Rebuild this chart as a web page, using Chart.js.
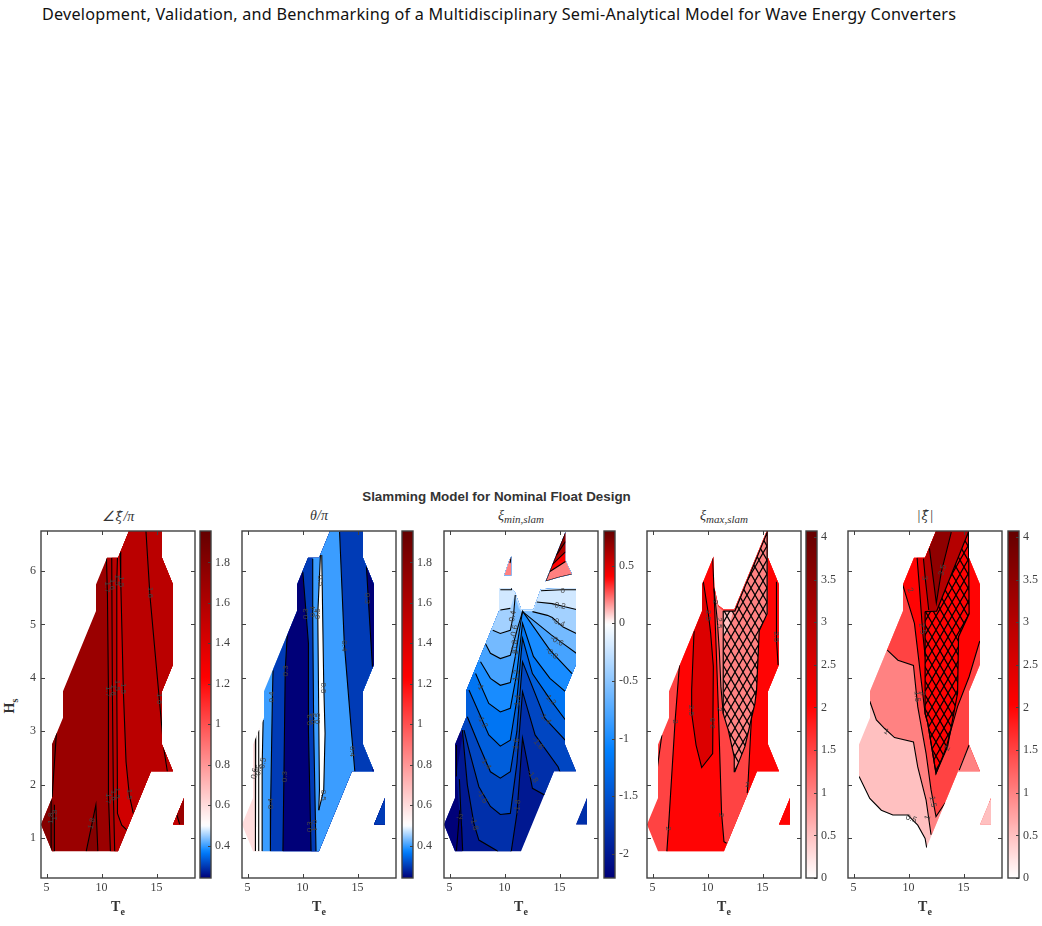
<!DOCTYPE html>
<html>
<head>
<meta charset="utf-8">
<title>Slamming Model for Nominal Float Design</title>
<script src="https://cdn.jsdelivr.net/npm/chart.js@4"></script>
<style>
  html, body { margin: 0; background: #fff; }
  #page { position: relative; width: 1042px; height: 926px; overflow: hidden; }
  canvas { position: absolute; }
  .txt { position: absolute; white-space: nowrap; color: #333; }
  #heading { left: 42px; top: 3px; font: 16.2px "Noto Sans", sans-serif; letter-spacing: 0.22px; color: #111; }
  #suptitle { left: 0; width: 993px; text-align: center; top: 489px; font: bold 13.4px "Liberation Sans", sans-serif; }
  .ptitle { width: 154px; text-align: center; top: 508px; font: italic 14px "Liberation Serif", serif; }
  .ptitle sub { font-size: 11px; vertical-align: -3px; line-height: 0; }
  .ptitle .hat { font: italic 12.5px "DejaVu Serif", serif; padding: 0 1px; }
  .axname { width: 154px; text-align: center; top: 899px; font: bold 14px "Liberation Serif", serif; }
  .axname sub { font-size: 10px; vertical-align: -4px; line-height: 0; }
  #ylab { left: -10px; top: 698px; width: 40px; text-align: center; transform: rotate(-90deg); font: bold 14px "Liberation Serif", serif; }
  #ylab sub { font-size: 10px; vertical-align: -4px; line-height: 0; }
</style>
</head>
<body>
<div id="page">
  <div class="txt" id="heading">Development, Validation, and Benchmarking of a Multidisciplinary Semi-Analytical Model for Wave Energy Converters</div>
  <div class="txt" id="suptitle">Slamming Model for Nominal Float Design</div>
  <div class="txt" id="ylab">H<sub>s</sub></div>
</div>
<script>
// Axes shared by all the contour panels
const xRange = [4.5, 18.5];
const yRange = [0.25, 6.75];
const xTicks = [5, 10, 15];
const yTicks = [1, 2, 3, 4, 5, 6];

// Sea states that were simulated (Te, Hs)
const domainMain = [[5.5,0.75],[11.5,0.75],[14.5,2.25],[16.5,2.25],[15.5,2.75],[15.5,3.75],[16.5,4.25],[16.5,5.75],[15.5,6.25],[15.5,6.75],[12.5,6.75],[11.5,6.25],[10.5,6.25],[9.5,5.75],[9.5,5.25],[6.5,3.75],[6.5,3.25],[5.5,2.75],[5.5,1.75],[4.5,1.25]];
const domainIsle = [[16.5,1.25],[17.5,1.75],[17.5,1.25]];
const everywhere = [[0,0],[20,0],[20,7],[0,7]];

// Panel 1: phase of xi
const phaseScale = [0.24, 0.5, 1.955];
const phaseTicks = [0.4, 0.6, 0.8, 1, 1.2, 1.4, 1.6, 1.8];
const phaseL1 = [[10.45,6.25],[10.54,5.55],[10.63,3.74],[10.63,1.8],[10.81,0.75]];
const phaseL2 = [[10.93,6.25],[10.99,3.74],[11.08,1.8],[11.2,0.75]];
const phaseL3 = [[11.45,6.25],[11.39,5.8],[11.39,3.74],[11.45,1.8],[11.45,1.46],[11.84,1.24],[12.29,1.15]];
const phaseL4 = [[11.69,6.36],[11.75,5.8],[11.99,3.74],[12.23,2.43],[12.53,1.8],[12.89,1.46]];
const phaseL5 = [[14.04,6.75],[14.4,5.55],[15,4.18],[15.51,3.02],[15.66,2.68],[15.99,2.24]];
const phaseLeft = [[4,3],[5.9,2.96],[5.81,2.68],[5.51,1.77],[5.72,1.62],[5.72,0.7],[4,0.7]];
const phaseBump = [[8.61,0.75],[9.49,1.62],[9.67,0.75]];
const phaseIsleEnd = [[16.81,1.46],[17.11,1.25],[17.5,1.25],[17.5,1.75]];
const phaseExtra = [[[5.9,2.96],[5.81,2.68],[5.51,1.77]],[[5.42,1.71],[5.42,0.75]],[[5.72,1.62],[5.72,0.75]],[[8.61,0.75],[9.49,1.62],[9.67,0.75]],[[16.81,1.46],[17.11,1.25]]];
const phaseLabels = [["1.8",5.36,1.37,-90],["1.8",5.72,1.43,-90],["1.8",9.13,1.27,-75],["1.7",10.48,5.7,90],["1.6",10.99,5.75,90],["1.5",11.39,5.83,90],["1.5",11.75,5.8,90],["1.6",14.46,5.6,90],["1.7",10.63,3.74,90],["1.6",11.02,3.77,90],["1.5",11.39,3.86,90],["1.5",11.99,3.8,90],["1.6",15.21,3.61,90],["1.7",10.63,1.74,90],["1.6",11.08,1.8,90],["1.5",11.45,1.84,90],["1.5",12.53,1.82,90]];

// Panel 2: theta
const thetaL1 = [[5.75,2.95],[5.72,0.75]];
const thetaL2 = [[6.02,3.02],[6.02,0.75]];
const thetaL3 = [[6.42,3.21],[6.33,2.33],[6.33,0.75]];
const thetaL4 = [[7.32,4.14],[7.26,3.58],[7.11,1.71],[7.08,0.75]];
const thetaL5 = [[8.61,4.8],[8.43,4.14],[8.31,2.15],[8.22,0.75]];
const thetaL6 = [[10.03,5.98],[10.33,5.2],[10.54,4.64],[10.54,3],[10.78,0.75]];
const thetaL7 = [[10.93,6.23],[10.93,5.14],[11.02,3],[11.23,0.75]];
const thetaLensL = [[11.63,6.3],[11.39,5.2],[11.45,3.89],[11.54,1.9],[11.48,1.52]];
const thetaLensR = [[11.75,6.3],[11.93,3.89],[12.05,2.96],[11.93,1.9],[11.48,1.52]];
const thetaLens = [[11.63,6.3],[11.39,5.2],[11.45,3.89],[11.54,1.9],[11.48,1.52],[11.93,1.9],[12.05,2.96],[11.93,3.89],[11.75,6.3]];
const thetaL9 = [[13.37,6.73],[13.8,4.64],[14.46,2.96],[14.76,2.24]];
const thetaL10 = [[15.81,6.08],[15.99,5.45],[16.36,4.21]];
const thetaLabels = [["0.6",5.66,2.21,-80],["0.5",6.02,2.27,-80],["0.5",6.42,2.4,-80],["0.4",7.17,3.64,-90],["0.3",8.52,4.13,-90],["0.4",7.11,1.64,-90],["0.3",8.37,2.15,-90],["0.3",10.33,5.2,-90],["0.4",10.93,5.24,-90],["0.5",11.39,5.2,-90],["0.5",11.63,5.82,90],["0.5",11.84,3.81,90],["0.3",10.63,3.21,-90],["0.4",10.93,3.24,-90],["0.5",11.39,3.24,-90],["0.5",11.84,1.8,90],["0.3",10.63,1.21,-90],["0.4",11.08,1.24,90],["0.4",13.8,4.6,90],["0.4",14.55,2.62,90],["0.3",15.9,5.49,90]];

// Panel 3: minimum slamming quantity
const minScale = [-2.208, 0, 0.8];
const minTicks = [-2, -1.5, -1, -0.5, 0, 0.5];
const minOutline = [[5.5,0.75],[11.5,0.75],[14.5,2.25],[16.5,2.25],[15.5,2.75],[15.5,3.75],[16.5,4.25],[16.5,5.68],[15.18,5.68],[13.3,5.66],[12.62,5.28],[11.53,5.28],[10.93,5.61],[10.62,5.68],[9.5,5.68],[9.5,5.25],[6.5,3.75],[6.5,3.25],[5.5,2.75],[5.5,1.75],[4.5,1.25]];
const minM02 = [[9.62,5.27],[10.53,5.3],[10.92,5.55],[11.52,5.25],[12.63,5.25],[12.93,5.42],[14.34,5.39],[15.48,5.33],[16.53,5.28]];
const minM04 = [[8.93,4.89],[9.62,4.83],[10.53,4.89],[10.83,5.2],[10.98,5.5],[11.28,5.3],[11.52,5.25],[12.54,5.24],[13.9,5.17],[14.34,5.13],[15.33,4.95],[16.53,4.83]];
const minM06 = [[8.27,4.64],[8.72,4.46],[9.62,4.36],[10.53,4.42],[11.13,4.89],[11.64,5.24],[14.28,4.8],[15.33,4.64],[16.53,4.46]];
const minM08 = [[7.82,4.3],[8.72,3.99],[9.62,3.86],[10.53,3.91],[10.98,4.4],[11.64,5.25],[14.13,4.52],[16.14,4.08]];
const minM10 = [[7.37,4.08],[8.57,3.52],[9.62,3.36],[10.53,3.43],[11.13,4.1],[11.64,5.02],[12.63,4.4],[14.13,3.99],[15.54,3.74]];
const minM12 = [[6.77,3.77],[8.57,2.93],[9.62,2.72],[10.53,2.83],[11.13,3.6],[11.64,4.74],[12.54,4.08],[14.13,3.6],[15.54,3.21]];
const minM14 = [[6.62,3.27],[7.67,2.74],[8.72,2.24],[9.62,2.12],[10.53,2.24],[11.13,3],[11.64,4.3],[13.68,3.24],[15.54,2.83]];
const minM16 = [[6.32,3.02],[6.77,2.65],[7.67,1.96],[8.72,1.59],[9.62,1.44],[10.53,1.46],[11.13,2.4],[11.64,3.74],[12.78,2.93],[14.88,2.33],[15.1,2.2]];
const minM18 = [[6.17,3.02],[6.62,2],[7.22,1.27],[7.67,0.96],[9.32,0.76],[10,0.53],[10.62,0.76],[11.13,1.46],[11.64,2.87],[12.54,1.93],[13.68,1.8],[14,1.7]];
const minCorner = [[4,0.5],[6.17,0.5],[6.17,1.2],[5.85,1.6],[5.63,2.2],[6.17,2.9],[4,4]];
const minPink = [[13.74,5.81],[15.54,6.73],[15.54,6.2],[16.14,5.94],[14.88,5.88]];
const minRed = [[14.13,5.99],[15.54,6.18],[15.54,6.73]];
const minDark = [[14.34,6.12],[15.54,6.36],[15.54,6.73]];
const minDarker = [[14.73,6.3],[15.54,6.55],[15.54,6.73]];
const minPinkLeft = [[9.98,5.92],[10.44,6.2],[10.62,6.27],[10.62,5.92]];
const minExtra = [[[9.62,5.65],[10.62,5.65],[10.75,5.72]],[[13.32,5.63],[15.18,5.65],[16.5,5.65]],[[9.62,5.27],[10.53,5.3]],[[12.93,5.42],[14.34,5.39],[15.48,5.33],[16.53,5.28]],[[8.93,4.89],[9.62,4.83],[10.53,4.89],[10.83,5.2],[10.98,5.55]],[[12.54,5.24],[13.9,5.17],[14.34,5.13],[15.33,4.95],[16.53,4.83]],[[5.63,0.76],[5.93,1.52]],[[6.2,0.76],[6.05,1.4],[5.9,2.1]],[[5.63,2.74],[5.63,2.15]],[[13.74,5.81],[14.88,5.88],[16.14,5.94]],[[14.13,5.99],[15.54,6.18]],[[14.34,6.12],[15.54,6.36]],[[14.73,6.3],[15.54,6.55]],[[13.74,5.81],[15.54,6.73]],[[10.5,6.15],[10.62,6.27]]];
const minLabels = [["0",15.3,5.63,0],["-0.2",14.94,5.35,10],["-0.4",14.88,5.04,25],["-0.6",14.76,4.69,30],["-0.8",14.28,4.46,40],["-1.2",14.13,3.6,45],["-1.4",13.68,3.24,45],["-1.6",13.02,2.77,50],["-1.8",12.54,2.15,55],["-1",7.76,3.84,55],["-1.2",7.97,3.18,60],["-1.4",8.27,2.4,55],["-1.6",7.97,1.77,60],["-1.8",7.22,1.27,75],["-2",5.93,1.4,0],["-0.4",10.74,5.13,-80],["-0.6",10.89,4.86,-80],["-0.8",10.92,4.58,-85],["-1",10.98,4.45,-85],["-1.2",11.07,4.02,-85],["-1.4",11.19,3.55,-85],["-1.6",11.07,2.74,-85],["-1.8",11.19,1.59,-85]];

// Panel 4: maximum slamming quantity
const magScale = [0, 0, 4.07];
const magTicks = [0, 0.5, 1, 1.5, 2, 2.5, 3, 3.5, 4];
const maxOutline = [[5.5,0.75],[11.5,0.75],[14.5,2.25],[16.5,2.25],[15.5,2.75],[15.5,3.75],[16.5,4.25],[16.5,5.75],[15.5,6.25],[15.5,6.75],[15.38,6.75],[12.45,5.29],[11.43,5.29],[10.98,5.36],[10.62,5.7],[10.54,6.27],[10.5,6.25],[9.5,5.75],[9.5,5.25],[6.5,3.75],[6.5,3.25],[5.5,2.75],[5.5,1.75],[4.5,1.25]];
const maxL2Left = [[7.45,4.24],[7.05,3.18],[6.45,1.18],[6.3,0.74]];
const maxL2Mid = [[10.47,6.27],[10.59,5.67],[10.98,3.46],[11.28,1.46],[11.5,0.93],[11.74,0.9]];
const maxL2Right = [[15.51,6.8],[15.51,5.2],[14.7,4.89],[14.46,3.77],[14,3.27],[13.7,2.09],[13.61,1.84]];
const maxSliver = [[10.59,5.67],[10.98,5.33],[11.43,5.25],[11.43,3.33],[11.22,3.83],[11.07,4.52],[10.89,5.08]];
const maxPale = [[11.43,5.25],[12.34,5.25],[11.8,4.83],[11.43,4.83]];
const maxHatch = [[11.43,5.25],[12.49,5.25],[15.42,6.72],[15.42,5.2],[14.7,4.88],[14.46,3.77],[14.31,3.52],[13.4,2.71],[12.49,2.24],[12.43,2.52],[11.89,3.02],[11.43,3.33],[11.43,5.25]];
const maxLens = [[8.78,4.88],[8.56,3.77],[8.56,3.33],[8.96,2.74],[9.47,2.32],[10.47,2.58],[10.53,4.21],[10.29,4.83],[10.08,5.2],[9.62,5.8],[9.5,5.8],[9.5,5.25]];
const maxExtra = [[[8.78,4.88],[8.56,3.77],[8.56,3.33],[8.96,2.74],[9.47,2.32],[10.47,2.58],[10.53,4.21],[10.29,4.83],[10.08,5.2],[9.62,5.8]],[[10.59,5.67],[10.89,5.08],[11.07,4.52],[11.22,3.83],[11.43,3.33]],[[5.85,2.93],[5.45,2.33]],[[16.27,5.8],[16.27,4.71],[16.42,4.24]],[[14,3.27],[13.7,2.09],[13.61,1.84]]];
const maxLabels = [["2",6.45,1.18,90],["2",7.05,3.18,90],["2.5",8.56,3.39,90],["2.5",10.08,5.17,90],["2",10.68,5.42,90],["2.5",11.07,5.03,90],["2.5",10.47,3.15,-90],["2",11.04,3.41,90],["2",11.28,1.43,90],["2",13.64,1.99,0],["2.5",16.21,4.77,90]];

// Panel 5: magnitude of xi
const ampL05 = [[5.51,2.15],[6.48,1.74],[7.53,1.52],[8.58,1.43],[9.94,1.43],[10.84,1.24],[11.51,0.99],[11.66,0.81]];
const ampL10 = [[6.48,3.56],[7.08,3.21],[7.83,3.05],[8.73,2.88],[10.45,2.8],[10.84,2.33],[11.6,1.71],[12.05,1.06]];
const ampL15 = [[8.07,4.52],[9.04,4.33],[10.45,4.23],[10.84,3.46],[11.6,2.58],[12.05,1.9],[12.5,1.4],[13.34,1.66]];
const ampL20 = [[9.49,5.73],[10.54,5.02],[11.51,3.33],[11.75,3.15],[12.5,2.21],[13.4,2.68],[14.46,3.46],[15.51,4.02],[16.48,4.69]];
const ampL25 = [[10.78,6.25],[10.99,5.7],[11.3,4.83],[11.51,4.4]];
const ampL30 = [[11.36,6.23],[11.54,5.83],[11.84,5.27]];
const ampL35 = [[11.9,6.43],[12.53,5.4],[12.98,5.98],[13.89,6.73]];
const ampBand25 = [[10.78,6.25],[10.99,5.7],[11.3,4.83],[11.51,4.4],[11.51,5.25],[12.56,5.25],[14.3,6.9],[10.78,6.9]];
const ampBand30 = [[11.36,6.9],[11.36,6.23],[11.54,5.83],[11.84,5.27],[12.53,5.25],[12.53,5.4],[11.9,6.43],[11.9,6.9]];
const ampBand35 = [[11.9,6.43],[12.53,5.4],[12.98,5.98],[13.89,6.73],[13.89,6.9],[11.9,6.9]];
const ampBand30R = [[13.89,6.73],[12.98,5.98],[12.53,5.4],[12.56,5.25],[15.45,6.73],[15.45,6.9],[13.89,6.9]];
const ampHatch = [[11.51,5.24],[12.56,5.25],[15.45,6.73],[15.51,5.2],[14.55,4.77],[14.46,3.71],[13.55,2.71],[12.5,2.21],[11.75,3.15],[11.51,3.33],[11.51,5.24]];
const ampPatch = [[14.46,2.24],[15.51,2.74],[16.5,2.24]];
const ampExtra = [[[15.51,2.74],[14.61,2.27]]];
const ampLabels = [["0.5",10.24,1.36,20],["1",7.98,2.99,30],["1",11.75,1.38,-70],["1.5",12.2,1.68,80],["1.5",10.78,3.65,85],["2",10.15,5.64,60],["3",11.45,5.87,80],["2.5",11.23,4.92,80],["3.5",13.1,6.02,-75],["2",13.55,2.68,-60],["2",11.29,3.71,80]];

// Polygon for the side of a contour line that has the higher level
function rightOf(line) {
    const a = line[0], b = line[line.length - 1];
    return [[a[0], 9]].concat(line, [[b[0], -1], [30, -1], [30, 9]]);
}
function above(line) {
    const a = line[0], b = line[line.length - 1];
    return [[-5, a[1]]].concat(line, [[30, b[1]], [30, 9], [-5, 9]]);
}

const phaseBands = [[1.7,everywhere],[1.8,phaseLeft],[1.8,phaseBump],[1.6,rightOf(phaseL1)],[1.55,rightOf(phaseL2)],[1.45,rightOf(phaseL3)],[1.55,rightOf(phaseL4)],[1.5,domainIsle],[1.7,phaseIsleEnd]];
const thetaBands = [[0.6,everywhere],[0.5,rightOf(thetaL1)],[0.4,rightOf(thetaL3)],[0.3,rightOf(thetaL4)],[0.2,rightOf(thetaL5)],[0.3,rightOf(thetaL6)],[0.4,rightOf(thetaL7)],[0.5,thetaLens],[0.3,rightOf(thetaL9)],[0.2,rightOf(thetaL10)],[0.3,domainIsle]];
const minBands = [[-2,everywhere],[-2.2,minCorner],[-1.8,above(minM18)],[-1.6,above(minM16)],[-1.4,above(minM14)],[-1.2,above(minM12)],[-1,above(minM10)],[-0.8,above(minM08)],[-0.6,above(minM06)],[-0.4,above(minM04)],[-0.2,above(minM02)],[0.2,minPink],[0.2,minPinkLeft],[0.4,minRed],[0.6,minDark],[0.7,minDarker],[-1.8,domainIsle]];
const maxBands = [[1.5,everywhere],[2,rightOf(maxL2Left)],[2.5,maxLens],[1.5,rightOf(maxL2Mid)],[2,rightOf(maxL2Right)],[1,maxSliver],[1,maxHatch],[0.5,maxPale],[2,domainIsle]];
const ampBands = [[0,everywhere],[0.5,above(ampL05)],[1,above(ampL10)],[1.5,above(ampL15)],[2,above(ampL20)],[2.5,ampBand25],[3,ampBand30],[3.5,ampBand35],[3,ampBand30R],[2,ampHatch],[1,ampPatch],[0.5,domainIsle]];

const phaseLines = [phaseL1, phaseL2, phaseL3, phaseL4, phaseL5].concat(phaseExtra);
const thetaLines = [thetaL1, thetaL2, thetaL3, thetaL4, thetaL5, thetaL6, thetaL7, thetaLensL, thetaLensR, thetaL9, thetaL10];
const minLines = [minM06, minM08, minM10, minM12, minM14, minM16, minM18].concat(minExtra);
const maxLines = [maxL2Left, maxL2Mid].concat(maxExtra);
const ampLines = [ampL05, ampL10, ampL15, ampL20, ampL25, ampL30, ampL35, ampExtra[0]];

// Outlines that clip each panel; white areas of panels 3 and 4 are left unpainted
const fullOutline = [domainMain, domainIsle];
const minOutlines = [minOutline, minPink, minPinkLeft, domainIsle];
const maxOutlines = [maxOutline, domainIsle];

// Blue-white-red map, pure red halfway up the positive side
function levelColor(v, s) {
    const mix = (a, b, f) => a.map((c, i) => Math.round(c + (b[i] - c) * f));
    let rgb;
    if (v >= s[1]) {
        const t = Math.min(1, s[2] > s[1] ? (v - s[1]) / (s[2] - s[1]) : 0);
        rgb = t < 0.5 ? mix([255,255,255], [255,0,0], t * 2) : mix([255,0,0], [100,0,0], t * 2 - 1);
    } else {
        const t = Math.min(1, (s[1] - v) / (s[1] - s[0]));
        rgb = t < 0.5 ? mix([255,255,255], [0,128,255], t * 2) : mix([0,128,255], [0,0,120], t * 2 - 1);
    }
    return "rgb(" + rgb.join(",") + ")";
}

function hatchPattern() {
    const c = document.createElement("canvas");
    c.width = 8; c.height = 14;
    const g = c.getContext("2d");
    g.strokeStyle = "#000";
    g.lineWidth = 1.25;
    g.beginPath();
    g.moveTo(-1, -1.75); g.lineTo(9, 15.75);
    g.moveTo(9, -1.75); g.lineTo(-1, 15.75);
    g.stroke();
    return g.createPattern(c, "repeat");
}

const toXY = pts => pts.map(p => ({ x: p[0], y: p[1] }));

function tracePolygon(ctx, pts, xs, ys) {
    pts.forEach((p, i) => {
        const px = xs.getPixelForValue(p[0]), py = ys.getPixelForValue(p[1]);
        if (i === 0) ctx.moveTo(px, py); else ctx.lineTo(px, py);
    });
    ctx.closePath();
}

// Fills band polygons, clips to the panel outline, adds frame and contour labels
function contourPlugin(outlines, labels) {
    return {
        id: "contourPanel",
        beforeDatasetsDraw(chart) {
            const ctx = chart.ctx;
            ctx.save();
            ctx.beginPath();
            outlines.forEach(o => tracePolygon(ctx, o, chart.scales.x, chart.scales.y));
            ctx.clip();
        },
        beforeDatasetDraw(chart, args) {
            const ds = chart.data.datasets[args.index];
            if (!ds.band) return;
            const ctx = chart.ctx;
            ctx.beginPath();
            args.meta.data.forEach((pt, i) => {
                if (i === 0) ctx.moveTo(pt.x, pt.y); else ctx.lineTo(pt.x, pt.y);
            });
            ctx.closePath();
            ctx.fillStyle = ds.backgroundColor;
            ctx.fill();
        },
        afterDatasetsDraw(chart) {
            const ctx = chart.ctx;
            ctx.restore();
            ctx.font = "8px 'Liberation Sans', sans-serif";
            ctx.textAlign = "center";
            ctx.textBaseline = "middle";
            labels.forEach(l => {
                ctx.save();
                ctx.translate(chart.scales.x.getPixelForValue(l[1]), chart.scales.y.getPixelForValue(l[2]));
                ctx.rotate(l[3] * Math.PI / 180);
                ctx.fillStyle = "#444";
                ctx.fillText(l[0], 0, 0);
                ctx.restore();
            });
            drawFrame(chart, true);
        }
    };
}

function drawFrame(chart, allSides) {
    const ctx = chart.ctx, a = chart.chartArea;
    ctx.save();
    ctx.strokeStyle = "#404040";
    ctx.lineWidth = 1;
    ctx.beginPath();
    chart.scales.y.ticks.forEach(t => {
        const py = Math.round(chart.scales.y.getPixelForValue(t.value)) + 0.5;
        ctx.moveTo(a.right, py); ctx.lineTo(a.right - (allSides ? 4 : 3), py);
        if (allSides) { ctx.moveTo(a.left, py); ctx.lineTo(a.left + 4, py); }
    });
    if (allSides) {
        chart.scales.x.ticks.forEach(t => {
            const px = Math.round(chart.scales.x.getPixelForValue(t.value)) + 0.5;
            ctx.moveTo(px, a.top); ctx.lineTo(px, a.top + 4);
            ctx.moveTo(px, a.bottom); ctx.lineTo(px, a.bottom - 4);
        });
    }
    ctx.stroke();
    ctx.lineWidth = 1.4;
    ctx.strokeRect(a.left, a.top, a.right - a.left, a.bottom - a.top);
    ctx.restore();
}

const tickFont = { family: "'Liberation Serif', serif", size: 12 };
const plotW = 154, plotH = 347, plotTop = 531;
const noPadding = s => { s.paddingTop = 0; s.paddingBottom = 0; s.paddingLeft = 0; s.paddingRight = 0; };

function addCanvas(left, top, w, h) {
    const c = document.createElement("canvas");
    c.width = w; c.height = h;
    c.style.left = left + "px";
    c.style.top = top + "px";
    document.getElementById("page").appendChild(c);
    return c;
}

function contourPanel(left, bands, lines, labels, scale, hatch, showY, outlines) {
    const datasets = [];
    bands.forEach(b => {
        datasets.push({ band: true, data: toXY(b[1]), backgroundColor: levelColor(b[0], scale), showLine: false, pointRadius: 0 });
    });
    if (hatch) {
        datasets.push({ band: true, data: toXY(hatch), backgroundColor: hatchPattern(), showLine: false, pointRadius: 0 });
        datasets.push({ data: toXY(hatch), showLine: true, borderColor: "#000", borderWidth: 1.2, pointRadius: 0, fill: false });
    }
    lines.forEach(l => {
        datasets.push({ data: toXY(l), showLine: true, borderColor: "#000", borderWidth: 1.1, pointRadius: 0, fill: false });
    });
    // first dataset goes underneath
    datasets.forEach((d, i) => { d.order = datasets.length - i; });

    const canvas = addCanvas(left - 36, plotTop - 6, plotW + 42, plotH + 30);
    new Chart(canvas, {
        type: "scatter",
        data: { datasets: datasets },
        options: {
            responsive: false,
            animation: false,
            events: [],
            layout: { padding: { top: 6, right: 6, left: 0, bottom: 0 } },
            plugins: { legend: { display: false }, tooltip: { enabled: false } },
            scales: {
                x: {
                    type: "linear", min: xRange[0], max: xRange[1],
                    grid: { display: false, drawTicks: false }, border: { display: false },
                    afterBuildTicks: s => { s.ticks = xTicks.map(v => ({ value: v })); },
                    afterFit: s => { s.height = 24; noPadding(s); },
                    ticks: { color: "#404040", font: tickFont, padding: 3, maxRotation: 0, autoSkip: false }
                },
                y: {
                    type: "linear", min: yRange[0], max: yRange[1],
                    grid: { display: false, drawTicks: false }, border: { display: false },
                    afterBuildTicks: s => { s.ticks = yTicks.map(v => ({ value: v })); },
                    afterFit: s => { s.width = 36; noPadding(s); },
                    ticks: { display: showY, color: "#404040", font: tickFont, padding: 5, autoSkip: false }
                }
            }
        },
        plugins: [contourPlugin(outlines, labels)]
    });
}

// Colorbar: one floating bar spanning the range, painted with the level map
function colorbar(left, w, scale, ticks) {
    const canvas = addCanvas(left - 2, plotTop - 6, w + 40, plotH + 30);
    new Chart(canvas, {
        type: "bar",
        data: {
            labels: [""],
            datasets: [{
                data: [[scale[0], scale[2]]],
                barPercentage: 1,
                categoryPercentage: 1,
                borderWidth: 0,
                backgroundColor: c => {
                    const a = c.chart.chartArea;
                    if (!a) return "transparent";
                    const g = c.chart.ctx.createLinearGradient(0, a.bottom, 0, a.top);
                    for (let i = 0; i <= 100; i++) {
                        g.addColorStop(i / 100, levelColor(scale[0] + (scale[2] - scale[0]) * i / 100, scale));
                    }
                    return g;
                }
            }]
        },
        options: {
            responsive: false,
            animation: false,
            events: [],
            layout: { padding: { top: 6, bottom: 24, left: 2, right: 0 } },
            plugins: { legend: { display: false }, tooltip: { enabled: false } },
            scales: {
                x: { display: false },
                y: {
                    position: "right", min: scale[0], max: scale[2],
                    grid: { display: false, drawTicks: false }, border: { display: false },
                    afterBuildTicks: s => { s.ticks = ticks.map(v => ({ value: v })); },
                    afterFit: s => { s.width = 38; noPadding(s); },
                    ticks: { color: "#404040", font: tickFont, padding: 4, autoSkip: false, callback: v => String(v) }
                }
            }
        },
        plugins: [{ id: "barFrame", afterDatasetsDraw: chart => drawFrame(chart, false) }]
    });
}

function addText(cls, left, html) {
    const d = document.createElement("div");
    d.className = "txt " + cls;
    d.style.left = left + "px";
    d.innerHTML = html;
    document.getElementById("page").appendChild(d);
}

const panelLefts = [41, 242, 444, 647, 848];
const barLefts = [200, 402, 604, 806, 1008];
const hatXi = '<span class="hat">\u03BE\u0302</span>';
const panelTitles = ["\u2220" + hatXi + "/\u03C0", "\u03B8/\u03C0", "\u03BE<sub>min,slam</sub>", "\u03BE<sub>max,slam</sub>", "|" + hatXi + "|"];

contourPanel(panelLefts[0], phaseBands, phaseLines, phaseLabels, phaseScale, null, true, fullOutline);
contourPanel(panelLefts[1], thetaBands, thetaLines, thetaLabels, phaseScale, null, false, fullOutline);
contourPanel(panelLefts[2], minBands, minLines, minLabels, minScale, null, false, minOutlines);
contourPanel(panelLefts[3], maxBands, maxLines, maxLabels, magScale, maxHatch, false, maxOutlines);
contourPanel(panelLefts[4], ampBands, ampLines, ampLabels, magScale, ampHatch, false, fullOutline);

colorbar(barLefts[0], 11, phaseScale, phaseTicks);
colorbar(barLefts[1], 11, phaseScale, phaseTicks);
colorbar(barLefts[2], 11, minScale, minTicks);
colorbar(barLefts[3], 11, magScale, magTicks);
colorbar(barLefts[4], 11, magScale, magTicks);

panelLefts.forEach((l, i) => {
    addText("ptitle", l, panelTitles[i]);
    addText("axname", l, "T<sub>e</sub>");
});
</script>
</body>
</html>
